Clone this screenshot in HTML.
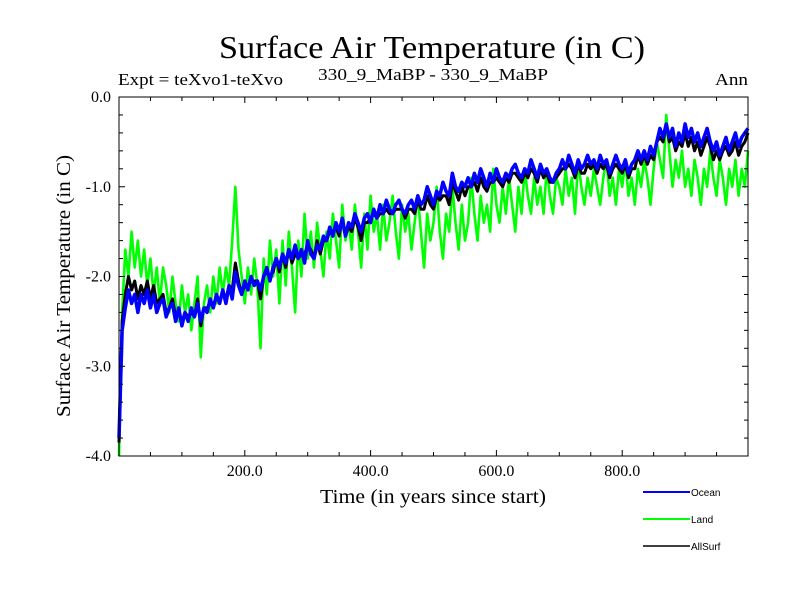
<!DOCTYPE html>
<html><head><meta charset="utf-8"><style>
html,body{margin:0;padding:0;background:#fff;}
svg{display:block;font-family:"Liberation Serif",serif;}
.leg{font-family:"Liberation Sans",sans-serif;font-size:10px;}
</style></head>
<body>
<svg id="chart" width="800" height="600" viewBox="0 0 800 600">
<text x="219" y="58" font-size="32" textLength="426" lengthAdjust="spacingAndGlyphs">Surface Air Temperature (in C)</text>
<text x="118" y="85" font-size="17" textLength="165" lengthAdjust="spacingAndGlyphs">Expt = teXvo1-teXvo</text>
<text x="318" y="80" font-size="17" textLength="230" lengthAdjust="spacingAndGlyphs">330_9_MaBP - 330_9_MaBP</text>
<text x="715" y="85" font-size="17" textLength="33" lengthAdjust="spacingAndGlyphs">Ann</text>
<text transform="translate(70,286) rotate(-90)" text-anchor="middle" font-size="20" textLength="262" lengthAdjust="spacingAndGlyphs">Surface Air Temperature (in C)</text>
<text x="433" y="503" text-anchor="middle" font-size="20" textLength="226" lengthAdjust="spacingAndGlyphs">Time (in years since start)</text>
<g id="plot"></g>
<g id="axes"></g>
<g>
<g><line x1="643" y1="492" x2="690" y2="492" stroke="#0000ff" stroke-width="2"/><text class="leg" x="691" y="496">Ocean</text></g>
<g><line x1="643" y1="519" x2="690" y2="519" stroke="#00ff00" stroke-width="2"/><text class="leg" x="691" y="523">Land</text></g>
<g><line x1="643" y1="546" x2="690" y2="546" stroke="#000" stroke-width="1.5"/><text class="leg" x="691" y="550">AllSurf</text></g>
</g>
</svg>
<script>
const years_step = 5;
const xTickValues = [200, 400, 600, 800];
const xTickLabels = ["200.0", "400.0", "600.0", "800.0"];
const yTickValues = [0, -1, -2, -3, -4];
const yTickLabels = ["0.0", "-1.0", "-2.0", "-3.0", "-4.0"];
const ocean = [-3.8,-2.6,-2.35,-2.15,-2.3,-2.2,-2.4,-2.2,-2.3,-2.15,-2.35,-2.2,-2.4,-2.3,-2.25,-2.45,-2.35,-2.3,-2.5,-2.35,-2.55,-2.4,-2.5,-2.35,-2.45,-2.3,-2.5,-2.35,-2.4,-2.25,-2.35,-2.2,-2.3,-2.15,-2.3,-2.1,-2.25,-1.95,-2.1,-2.2,-2.05,-2.15,-2.0,-2.1,-2.05,-2.15,-2.0,-1.9,-2.05,-1.9,-1.8,-1.9,-1.75,-1.85,-1.7,-1.8,-1.65,-1.8,-1.7,-1.85,-1.6,-1.75,-1.8,-1.65,-1.7,-1.55,-1.6,-1.45,-1.55,-1.4,-1.5,-1.35,-1.55,-1.4,-1.45,-1.3,-1.4,-1.5,-1.35,-1.3,-1.4,-1.25,-1.35,-1.2,-1.3,-1.15,-1.25,-1.3,-1.2,-1.15,-1.25,-1.3,-1.2,-1.15,-1.25,-1.1,-1.2,-1.15,-1.0,-1.1,-1.2,-1.05,-1.1,-0.95,-1.05,-1.1,-0.85,-1.0,-1.05,-0.95,-1.0,-0.9,-1.0,-0.85,-0.95,-0.8,-0.9,-1.0,-0.85,-0.95,-0.8,-0.9,-0.95,-0.85,-0.9,-0.8,-0.75,-0.85,-0.9,-0.8,-0.85,-0.7,-0.8,-0.9,-0.75,-0.85,-0.8,-0.9,-0.95,-0.85,-0.8,-0.7,-0.8,-0.65,-0.75,-0.85,-0.7,-0.8,-0.75,-0.65,-0.75,-0.7,-0.8,-0.65,-0.75,-0.7,-0.85,-0.75,-0.65,-0.75,-0.8,-0.7,-0.85,-0.75,-0.7,-0.6,-0.7,-0.6,-0.7,-0.55,-0.65,-0.5,-0.35,-0.45,-0.3,-0.45,-0.35,-0.55,-0.4,-0.5,-0.3,-0.45,-0.35,-0.5,-0.4,-0.55,-0.45,-0.35,-0.5,-0.6,-0.5,-0.65,-0.55,-0.45,-0.6,-0.5,-0.4,-0.55,-0.45,-0.4,-0.35];
const land = [-4.0,-2.4,-1.7,-2.0,-1.5,-1.9,-1.6,-2.0,-1.7,-2.1,-1.8,-2.2,-1.9,-2.3,-1.9,-2.1,-2.4,-2.0,-2.3,-2.5,-2.1,-2.4,-2.2,-2.6,-2.3,-2.0,-2.9,-2.3,-2.1,-2.4,-2.0,-2.3,-1.9,-2.2,-1.9,-2.1,-1.6,-1.0,-1.7,-2.0,-2.3,-1.9,-2.2,-1.8,-2.1,-2.8,-1.8,-2.2,-1.6,-2.0,-1.7,-2.3,-1.6,-2.1,-1.5,-1.9,-2.4,-1.6,-2.0,-1.3,-1.8,-1.5,-1.9,-1.4,-1.7,-2.0,-1.5,-1.8,-1.3,-1.6,-1.9,-1.2,-1.6,-1.4,-1.7,-1.2,-1.5,-1.9,-1.3,-1.7,-1.1,-1.5,-1.3,-1.7,-1.2,-1.6,-1.4,-1.1,-1.5,-1.8,-1.2,-1.5,-1.3,-1.7,-1.4,-1.1,-1.5,-1.9,-1.3,-1.6,-1.4,-1.0,-1.5,-1.8,-1.3,-1.5,-1.0,-1.4,-1.7,-1.2,-1.6,-1.4,-0.9,-1.3,-1.6,-1.1,-1.4,-1.2,-1.5,-0.8,-1.2,-1.4,-1.0,-1.3,-0.9,-1.2,-1.5,-1.0,-1.3,-0.8,-1.1,-1.3,-0.9,-1.2,-1.0,-1.3,-0.8,-1.1,-1.3,-0.9,-1.0,-1.2,-0.8,-1.1,-0.9,-1.3,-0.7,-1.0,-1.2,-0.9,-1.1,-0.8,-1.0,-1.2,-0.9,-0.7,-1.1,-0.9,-1.2,-0.8,-1.0,-0.7,-1.1,-0.9,-1.2,-0.8,-1.0,-0.7,-0.9,-1.2,-0.8,-0.5,-0.7,-0.9,-0.2,-0.6,-1.0,-0.7,-0.9,-0.6,-1.0,-0.8,-1.1,-0.7,-0.9,-1.2,-0.8,-1.0,-0.6,-0.9,-1.1,-0.7,-0.9,-1.2,-0.8,-1.0,-0.7,-1.1,-0.8,-1.0,-0.6];
const allsurf = [-3.85,-2.5,-2.2,-2.0,-2.15,-2.05,-2.25,-2.1,-2.2,-2.05,-2.25,-2.1,-2.3,-2.25,-2.2,-2.4,-2.35,-2.25,-2.45,-2.4,-2.5,-2.4,-2.45,-2.4,-2.45,-2.25,-2.55,-2.35,-2.35,-2.3,-2.3,-2.25,-2.25,-2.2,-2.25,-2.1,-2.15,-1.85,-2.05,-2.2,-2.1,-2.1,-2.05,-2.05,-2.05,-2.25,-2.0,-1.95,-2.0,-1.95,-1.8,-1.95,-1.75,-1.9,-1.7,-1.85,-1.75,-1.8,-1.75,-1.75,-1.65,-1.7,-1.8,-1.6,-1.75,-1.6,-1.6,-1.5,-1.5,-1.45,-1.55,-1.35,-1.55,-1.45,-1.5,-1.35,-1.45,-1.6,-1.4,-1.4,-1.35,-1.3,-1.35,-1.3,-1.3,-1.25,-1.3,-1.3,-1.25,-1.25,-1.25,-1.35,-1.25,-1.25,-1.3,-1.15,-1.25,-1.25,-1.1,-1.2,-1.25,-1.1,-1.15,-1.1,-1.1,-1.2,-0.95,-1.05,-1.15,-1.0,-1.1,-1.0,-1.0,-0.95,-1.05,-0.9,-1.0,-1.05,-0.95,-0.95,-0.9,-0.95,-1.0,-0.9,-0.95,-0.85,-0.85,-0.9,-0.95,-0.85,-0.9,-0.8,-0.85,-0.95,-0.8,-0.9,-0.85,-0.95,-0.95,-0.9,-0.85,-0.8,-0.8,-0.75,-0.8,-0.9,-0.75,-0.85,-0.85,-0.75,-0.8,-0.75,-0.85,-0.75,-0.8,-0.75,-0.9,-0.8,-0.75,-0.8,-0.85,-0.75,-0.9,-0.8,-0.8,-0.65,-0.75,-0.65,-0.75,-0.65,-0.7,-0.5,-0.45,-0.5,-0.3,-0.5,-0.45,-0.6,-0.5,-0.55,-0.4,-0.55,-0.45,-0.6,-0.5,-0.65,-0.55,-0.45,-0.55,-0.7,-0.6,-0.7,-0.6,-0.55,-0.65,-0.6,-0.5,-0.65,-0.55,-0.5,-0.4];

const X0 = 119, X1 = 748, Y0 = 97, Y1 = 456;
const xMin = 0, xMax = 1000, yMin = -4, yMax = 0;
function xs(v){ return X0 + (v - xMin) / (xMax - xMin) * (X1 - X0); }
function ys(v){ return Y0 + (yMax - v) / (yMax - yMin) * (Y1 - Y0); }
const NS = "http://www.w3.org/2000/svg";
const plot = document.getElementById('plot');
const axes = document.getElementById('axes');

function drawSeries(arr, color, width, name){
  let d = '';
  arr.forEach((v, i) => { d += (i ? 'L' : 'M') + xs(i * years_step).toFixed(2) + ',' + ys(v).toFixed(2); });
  const p = document.createElementNS(NS, 'path');
  p.setAttribute('d', d);
  p.setAttribute('fill', 'none');
  p.setAttribute('stroke', color);
  p.setAttribute('stroke-width', width);
  p.setAttribute('stroke-linejoin', 'round');
  
  
  plot.appendChild(p);
}
drawSeries(land, '#00ff00', 2.6, 'land-series');
drawSeries(allsurf, '#000000', 3, 'allsurf-series');
drawSeries(ocean, '#0000ff', 3.5, 'ocean-series');

function ln(x1, y1, x2, y2, name){
  const l = document.createElementNS(NS, 'line');
  l.setAttribute('x1', x1); l.setAttribute('y1', y1);
  l.setAttribute('x2', x2); l.setAttribute('y2', y2);
  l.setAttribute('stroke', '#000'); l.setAttribute('stroke-width', 1);
  
  
  axes.appendChild(l);
}
const frame = document.createElementNS(NS, 'rect');
frame.setAttribute('x', X0); frame.setAttribute('y', Y0);
frame.setAttribute('width', X1 - X0); frame.setAttribute('height', Y1 - Y0);
frame.setAttribute('fill', 'none'); frame.setAttribute('stroke', '#000');


axes.appendChild(frame);

for (let t = 50; t < 1000; t += 50) {
  const major = t % 200 === 0;
  const len = major ? 6 : 4;
  ln(xs(t), Y1, xs(t), Y1 - len, 'x-tick');
  ln(xs(t), Y0, xs(t), Y0 + len, 'x-tick-top');
}
for (let k = 1; k < 20; k++) {
  const v = -k * 0.2;
  const major = k % 5 === 0;
  const len = major ? 6 : 4;
  ln(X0, ys(v), X0 + len, ys(v), 'y-tick');
  ln(X1, ys(v), X1 - len, ys(v), 'y-tick-right');
}
xTickValues.forEach((v, i) => {
  const t = document.createElementNS(NS, 'text');
  t.setAttribute('x', xs(v)); t.setAttribute('y', 476);
  t.setAttribute('text-anchor', 'middle'); t.setAttribute('font-size', 16);
  t.textContent = xTickLabels[i];
  
  
  axes.appendChild(t);
});
yTickValues.forEach((v, i) => {
  const t = document.createElementNS(NS, 'text');
  t.setAttribute('x', 111); t.setAttribute('y', ys(v) + 5);
  t.setAttribute('text-anchor', 'end'); t.setAttribute('font-size', 16);
  t.textContent = yTickLabels[i];
  
  
  axes.appendChild(t);
});
</script>
</body></html>
